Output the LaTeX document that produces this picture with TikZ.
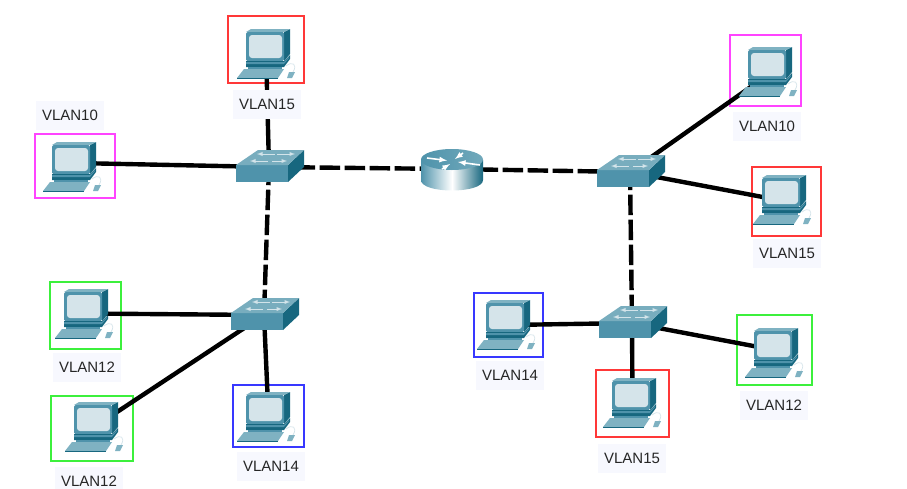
\documentclass[tikz,border=0pt]{standalone}
\usepackage{fontspec}
\setmainfont{Liberation Sans}
\definecolor{pcfront}{HTML}{4F93AB}
\definecolor{pctop}{HTML}{7FB2C2}
\definecolor{pcside}{HTML}{17677F}
\definecolor{pcscreen}{HTML}{D5E4EA}
\definecolor{labelbg}{HTML}{F7F8FE}
\definecolor{boxred}{HTML}{FF3838}
\definecolor{boxpink}{HTML}{FF44FF}
\definecolor{boxgreen}{HTML}{3CF03C}
\definecolor{boxblue}{HTML}{3838FF}
\tikzset{
    pcbox/.style = {draw, line width=1.1pt, inner sep=0pt},
    vlanlabel/.style = {fill=labelbg, inner sep=0pt, minimum width=68pt, minimum height=29pt,
        font=\fontsize{15}{18}\selectfont, text=black!85},
    wire/.style = {line width=4.4pt, black},
    trunk/.style = {wire, dash pattern=on 20.5pt off 4.5pt},
    pics/pc/.style = {code = {
        \fill[pcside] (18,-17) -- (24,-20) -- (24,5) -- (18,12) -- cycle; % monitor side
        \fill[pctop] (-20,-17) -- (-15,-20) -- (24,-20) -- (18,-17) -- cycle;
        \fill[pcfront, rounded corners=1.5pt] (-20,-17) -- (18,-17) -- (18,12) -- (-20,12) -- cycle;
        \fill[pcscreen, rounded corners=3pt] (-17,-14) rectangle (16,9);
        \fill[pcside] (-20,12) -- (18,12) -- (24,6) -- (24,10) -- (18,18) -- (-20,18) -- cycle;
        \fill[pcfront] (-20,13) -- (18,13) -- (23,8) -- (23,9) -- (18,15) -- (-20,15) -- cycle;
        \fill[pcfront] (-18,18) rectangle (16,20.5);
        \fill[pctop] (-22,20) -- (18,20) -- (12,29) -- (-29,29) -- cycle; % keyboard
        \fill[pcside] (-29,29) -- (12,29) -- (12,30) -- (-29,30) -- cycle;
        \fill[pctop] (23,23) -- (29,23) -- (26,29) -- (21,29) -- cycle; % mouse
        \draw[pcscreen, line width=0.7pt] (20,17) .. controls (26,12) and (32,15) .. (27,23);
    }},
    pics/switchbox/.style = {code = {
        \fill[pcfront] (-33,-2) -- (19,-2) -- (19,15) -- (-33,15) -- cycle;
        \fill[pcside] (19,-2) -- (35,-17) -- (35,0) -- (19,15) -- cycle;
        \fill[pctop!85!pcfront] (-33,-2) -- (-11,-17) -- (35,-17) -- (19,-2) -- cycle;
        \draw[latex-, white!75!pcfront, line width=0.9pt] (-12,-13) -- (6,-13); % arrows on top
        \draw[-latex, white!75!pcfront, line width=0.9pt] (8,-13) -- (26,-13);
        \draw[latex-, white!75!pcfront, line width=0.9pt] (-19,-6) -- (-1,-6);
        \draw[-latex, white!75!pcfront, line width=0.9pt] (3,-6) -- (18,-6);
    }},
    pics/routerbox/.style = {code = {
        \shade[left color=pcfront, right color=pcside, middle color=white]
            (-31,-9) -- (-31,11) .. controls (-31,25) and (31,25) .. (31,11) -- (31,-9) -- cycle;
        \shade[left color=pcfront, right color=pctop!70!pcfront] (0,-9.5) ellipse (31 and 10.5);
        \draw[-latex, white, line width=1.6pt] (-25,-11) -- (-5,-8.5);
        \draw[-latex, white, line width=1.6pt] (11,-16) -- (3,-10);
        \draw[-latex, white, line width=1.6pt] (28,-4) -- (6,-7);
        \draw[-latex, white, line width=1.6pt] (-10,0) -- (-2,-5);
    }},
}
\begin{document}
\begin{tikzpicture}[x=1pt, y=-1pt]
    \useasboundingbox (0,0) rectangle (907,488);
    % pc frames, left part
    \node[pcbox, draw=boxred, minimum width=76pt, minimum height=67pt] (pcTop) at (266,49.5) {};
    \node[pcbox, draw=boxpink, minimum width=80pt, minimum height=64pt] (pcLeft) at (75,166) {};
    \node[pcbox, draw=boxgreen, minimum width=71pt, minimum height=67pt] (pcMid) at (85.5,315.5) {};
    \node[pcbox, draw=boxgreen, minimum width=82pt, minimum height=65pt] (pcLow) at (92,428.5) {};
    \node[pcbox, draw=boxblue, minimum width=71pt, minimum height=62pt] (pcBlue) at (268.5,416) {};
    % pc frames, right part
    \node[pcbox, draw=boxpink, minimum width=71pt, minimum height=71pt] (pcRone) at (765.5,70.5) {};
    \node[pcbox, draw=boxred, minimum width=69pt, minimum height=69pt] (pcRtwo) at (786.5,201.5) {};
    \node[pcbox, draw=boxblue, minimum width=69pt, minimum height=64pt] (pcRblue) at (508.5,325) {};
    \node[pcbox, draw=boxred, minimum width=73pt, minimum height=67pt] (pcRlow) at (632.5,403.5) {};
    \node[pcbox, draw=boxgreen, minimum width=75pt, minimum height=70pt] (pcRgreen) at (774.5,350) {};
    % switches and router
    \node[inner sep=0pt] (swA) at (269,167) {};
    \node[inner sep=0pt] (swB) at (264,315) {};
    \node[inner sep=0pt] (swC) at (630,172) {};
    \node[inner sep=0pt] (swD) at (632,323) {};
    \node[inner sep=0pt] (rtr) at (452,169) {};
    % connectors
    \draw[wire] (pcTop.center) -- (swA);
    \draw[wire] ([yshift=3pt]pcLeft.center) -- (swA);
    \draw[wire] ([yshift=2pt]pcMid.center) -- (swB);
    \draw[wire] (pcLow.center) -- (swB);
    \draw[wire] (pcBlue.center) -- (swB);
    \draw[wire] ([yshift=-6pt]pcRone.center) -- (swC);
    \draw[wire] (pcRtwo.center) -- (swC);
    \draw[wire] (pcRblue.center) -- (swD);
    \draw[wire] (pcRlow.center) -- (swD);
    \draw[wire] (pcRgreen.center) -- (swD);
    \draw[trunk] (swA) -- (rtr);
    \draw[trunk] (rtr) -- (swC);
    \draw[trunk, dash phase=3pt] (swA) -- (swB);
    \draw[trunk, dash phase=3pt] (swC) -- (swD);
    % devices on top of the wires
    \foreach \px/\py in {266/49,72/162,84/309,94/422,266/412,768/67,782/195,506/320,632/398,774/348}
        \pic at (\px,\py) {pc};
    \foreach \s in {swA,swB,swC,swD}
        \pic at (\s) {switchbox};
    \pic at (rtr) {routerbox};
    % labels
    \node[vlanlabel] (lblTop) at (267,104) {VLAN15};
    \node[vlanlabel] (lblLeft) at (70,115.5) {VLAN10};
    \node[vlanlabel] (lblMid) at (87,367) {VLAN12};
    \node[vlanlabel] (lblLow) at (89,481) {VLAN12};
    \node[vlanlabel] (lblBlue) at (271,466) {VLAN14};
    \node[vlanlabel] (lblRone) at (767,126) {VLAN10};
    \node[vlanlabel] (lblRtwo) at (787,253) {VLAN15};
    \node[vlanlabel] (lblRblue) at (510,375) {VLAN14};
    \node[vlanlabel] (lblRlow) at (632,458) {VLAN15};
    \node[vlanlabel] (lblRgreen) at (774,405) {VLAN12};
\end{tikzpicture}
\end{document}
